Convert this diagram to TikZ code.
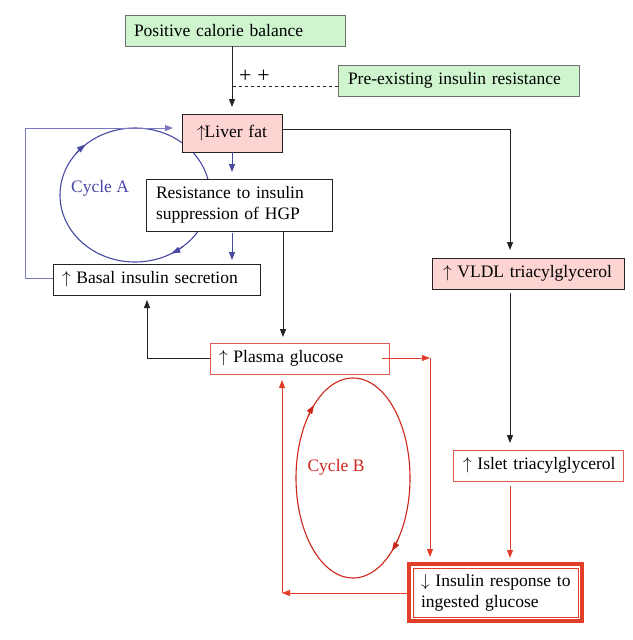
\documentclass[tikz,border=0pt]{standalone}
\usepackage{fontspec}
\setmainfont{Liberation Serif}
\usetikzlibrary{arrows.meta}
\newcommand\dfont{\fontsize{17.5}{21}\selectfont}
\newcommand\upa{$\uparrow$}
\newcommand\dna{$\downarrow$}
\definecolor{gfill}{RGB}{206,245,206}
\definecolor{gline}{RGB}{110,110,110}
\definecolor{pfill}{RGB}{252,212,210}
\definecolor{kline}{RGB}{35,35,35}
\definecolor{rline}{RGB}{226,62,42}
\definecolor{rbox}{RGB}{222,92,82}
\definecolor{rcyc}{RGB}{205,38,26}
\definecolor{bcyc}{RGB}{72,72,165}
\definecolor{bline}{RGB}{120,120,192}
\begin{document}
\begin{tikzpicture}[x=1pt,y=-1pt,
  bx/.style={draw=kline, line width=0.9pt, fill=white, font=\dfont, align=left,
    inner ysep=0pt, outer sep=0pt, anchor=center},
  greenbx/.style={bx, fill=gfill, draw=gline},
  pinkbx/.style={bx, fill=pfill, draw=kline},
  redbx/.style={bx, draw=rbox},
  karr/.style={draw=kline, line width=1pt, -{Triangle[length=8pt,width=6pt]}},
  rarr/.style={draw=rline, line width=0.9pt, -{Triangle[length=8pt,width=6pt]}},
  barr/.style={draw=bcyc, line width=0.9pt, -{Triangle[length=8pt,width=6pt]}},
  lbarr/.style={draw=bline, line width=0.9pt, -{Triangle[length=8pt,width=6pt]}},
  cyctip/.style={-{Triangle[length=9pt,width=6pt]}},
]
\useasboundingbox (0,0) rectangle (632,640);

% Cycle A (behind boxes)
\coordinate (ca) at (135,195);
\draw[bcyc, line width=1.1pt] (ca) ellipse [x radius=75, y radius=67];
\draw[bcyc, line width=1.1pt, cyctip] ([shift={(218:75 and 67)}]ca) arc[start angle=218, end angle=229, x radius=75, y radius=67];
\draw[bcyc, line width=1.1pt, cyctip] ([shift={(50:75 and 67)}]ca) arc[start angle=50, end angle=61, x radius=75, y radius=67];
\node[text=bcyc, font=\dfont] (cycA) at (100,188) {Cycle A};

% Cycle B
\coordinate (cb) at (353,478);
\draw[rcyc, line width=1.1pt] (cb) ellipse [x radius=57, y radius=100];
\draw[rcyc, line width=1.1pt, cyctip] ([shift={(218:57 and 100)}]cb) arc[start angle=218, end angle=227, x radius=57, y radius=100];
\draw[rcyc, line width=1.1pt, cyctip] ([shift={(38:57 and 100)}]cb) arc[start angle=38, end angle=47, x radius=57, y radius=100];
\node[text=rcyc, font=\dfont] (cycB) at (336,467) {Cycle B};

% Boxes
\node[greenbx, minimum width=220, minimum height=31, text width=202, inner xsep=9] (pcb) at (235,30.5) {\mbox{Positive calorie balance}};
\node[greenbx, minimum width=241, minimum height=31, text width=221, inner xsep=10] (pre) at (458.5,80.5) {\mbox{Pre-existing insulin resistance}};
\node[pinkbx, minimum width=100, minimum height=38, text width=84, inner xsep=8, align=center] (liver) at (232,133) {\mbox{\upa\kern-1pt Liver fat}};
\node[bx, minimum width=186, minimum height=52, text width=166, inner xsep=10] (res) at (239,205) {\mbox{Resistance to insulin}\\\mbox{suppression of HGP}};
\node[bx, minimum width=207, minimum height=31, text width=189, inner xsep=9] (basal) at (156.5,279.5) {\mbox{\upa{} Basal insulin secretion}};
\node[redbx, minimum width=179, minimum height=31, text width=161, inner xsep=9] (plasma) at (299.5,358.5) {\mbox{\upa{} Plasma glucose}};
\node[pinkbx, minimum width=192, minimum height=31, text width=170, inner xsep=11] (vldl) at (528,273.5) {\mbox{\upa{} VLDL triacylglycerol}};
\node[redbx, minimum width=170, minimum height=31, text width=150, inner xsep=10] (islet) at (538,465.5) {\mbox{\upa{} Islet triacylglycerol}};
\node[bx, draw=rline, line width=3.5pt, minimum width=173, minimum height=57, text width=149, inner xsep=12] (ins) at (495.5,592.5) {\mbox{\dna{} Insulin response to}\\\mbox{ingested glucose}};
\draw[rline, line width=1pt] ([shift={(4,4)}]ins.north west) rectangle ([shift={(-4,-4)}]ins.south east);

% + + label
\node[font=\fontsize{22}{24}\selectfont, inner sep=0pt] (pp) at (254.5,76) {+\kern6pt+};

% helper coordinates
\coordinate (xl) at (232,0);
\coordinate (xv) at (510,0);
\coordinate (xr) at (430,358);
\coordinate (xb) at (282,593);
\coordinate (xk) at (147,358);
\coordinate (xh) at (283,0);
\coordinate (xa) at (25,278);
\coordinate (xt) at (25,128);
\coordinate (xd) at (0,86);

% Connectors
\draw[karr, shorten >=7pt] (xl |- pcb.south) -- (xl |- liver.north);
\draw[kline, line width=0.8pt, dashed] (pre.west |- xd) -- (xl |- xd);
\draw[karr, shorten >=8pt] ([yshift=4pt]liver.east) -| (xv |- vldl.north);
\draw[karr, shorten <=4pt, shorten >=7pt] (xv |- vldl.south) -- (xv |- islet.north);
\draw[rarr, shorten <=5pt, shorten >=6pt] (xv |- islet.south) -- (xv |- ins.north);
\draw[rarr] ([xshift=-7pt]plasma.east |- xr) -- (xr);
\draw[rarr, shorten >=7pt] (xr) -- (xr |- ins.north);
\draw[rarr] (ins.west |- xb) -- (xb);
\draw[rarr, shorten >=6pt] (xb) -- (xb |- plasma.south);
\draw[karr, shorten >=6pt] (xh |- res.south) -- (xh |- plasma.north);
\draw[karr, shorten >=5pt] (plasma.west |- xk) -- (xk) -- (xk |- basal.south);
\draw[barr, shorten >=7pt] (xl |- liver.south) -- (xl |- res.north);
\draw[barr, shorten <=2pt, shorten >=4pt] (xl |- res.south) -- (xl |- basal.north);
\draw[lbarr, shorten >=9pt] (basal.west |- xa) -- (xa) -- (xt) -- (xt -| liver.west);
\end{tikzpicture}
\end{document}
